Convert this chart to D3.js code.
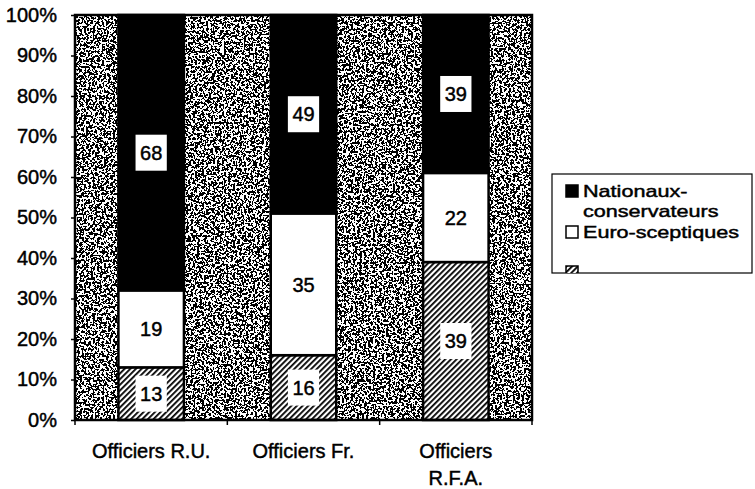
<!DOCTYPE html>
<html>
<head>
<meta charset="utf-8">
<script src="https://cdn.jsdelivr.net/npm/d3@7"></script>
<style>
  body { margin: 0; background: #fff; }
  text { font-family: "Liberation Sans", Arial, sans-serif; fill: #000; stroke: #000; stroke-width: 0.45px; }
</style>
</head>
<body>
<svg id="chart"></svg>
<script>
// data (bottom to top in each bar)
const categories = ["Officiers R.U.", "Officiers Fr.", "Officiers R.F.A."];
const categoryLines = [["Officiers R.U."], ["Officiers Fr."], ["Officiers", "R.F.A."]];
const hatchedValues = [13, 16, 39];
const euroValues = [19, 35, 22];
const nationauxValues = [68, 49, 39];
const yTicks = [0, 10, 20, 30, 40, 50, 60, 70, 80, 90, 100];
const legendNames = [["Nationaux-", "conservateurs"], ["Euro-sceptiques"], [""]];

const width = 755;
const height = 489;
const svg = d3.select("#chart").attr("width", width).attr("height", height);

const plot = { left: 75, right: 532, top: 15, bottom: 420 };

const rows = categories.map(function (c, i) {
	return { cat: c, hatched: hatchedValues[i], euro: euroValues[i], nationaux: nationauxValues[i] };
});
const keys = ["hatched", "euro", "nationaux"];
const stacked = d3.stack().keys(keys)(rows);

const x = d3.scaleBand().domain(categories).range([plot.left, plot.right])
	.paddingInner(0.57).paddingOuter(0.285);
const y = d3.scaleLinear().domain([0, 100]).range([plot.bottom, plot.top]);

const defs = svg.append("defs");

// scanned grey speckle
const noise = defs.append("filter").attr("id", "noise")
	.attr("x", 0).attr("y", 0).attr("width", "100%").attr("height", "100%");
noise.append("feTurbulence").attr("type", "fractalNoise")
	.attr("baseFrequency", 0.45).attr("numOctaves", 3).attr("seed", 7);
noise.append("feColorMatrix").attr("type", "saturate").attr("values", 0);
const ct = noise.append("feComponentTransfer");
["feFuncR", "feFuncG", "feFuncB"].forEach(function (f) {
	ct.append(f).attr("type", "discrete").attr("tableValues", "0 0 0 0 0 1 1 1 1 1");
});
ct.append("feFuncA").attr("type", "table").attr("tableValues", "1 1");

// diagonal hatch
const hatch = defs.append("pattern").attr("id", "hatch")
	.attr("patternUnits", "userSpaceOnUse").attr("width", 4).attr("height", 4)
	.attr("patternTransform", "rotate(45)");
hatch.append("rect").attr("width", 4).attr("height", 4).attr("fill", "#fff");
hatch.append("rect").attr("width", 1.8).attr("height", 4).attr("fill", "#000");

const fills = { hatched: "url(#hatch)", euro: "#fff", nationaux: "#000" };

// plot background
svg.append("rect")
	.attr("x", plot.left).attr("y", plot.top)
	.attr("width", plot.right - plot.left).attr("height", plot.bottom - plot.top)
	.attr("filter", "url(#noise)");

// bars
const layer = svg.append("g").selectAll("g")
	.data(stacked)
	.enter()
	.append("g")
	.attr("fill", function (d) { return fills[d.key]; });

layer.selectAll("rect")
	.data(function (d) { return d; })
	.enter()
	.append("rect")
	.attr("x", function (d) { return x(d.data.cat); })
	.attr("y", function (d) { return y(d[1]); })
	.attr("width", x.bandwidth())
	.attr("height", function (d) { return y(d[0]) - y(d[1]); })
	.attr("stroke", "#000")
	.attr("stroke-width", 2.5);

// value labels in white boxes
stacked.forEach(function (s) {
	s.forEach(function (d) {
		const cx = x(d.data.cat) + x.bandwidth() / 2;
		const cy = (y(d[0]) + y(d[1])) / 2;
		const g = svg.append("g");
		const box = g.append("rect").attr("fill", "#fff");
		const t = g.append("text")
			.attr("x", cx).attr("y", cy).attr("dy", "0.36em")
			.attr("text-anchor", "middle")
			.style("font-size", "20px")
			.text(d[1] - d[0]);
		const w = t.node().getComputedTextLength() + 9;
		box.attr("x", cx - w / 2).attr("y", cy - 18).attr("width", w).attr("height", 36);
	});
});

// frame
svg.append("rect")
	.attr("x", plot.left).attr("y", plot.top)
	.attr("width", plot.right - plot.left).attr("height", plot.bottom - plot.top)
	.attr("fill", "none").attr("stroke", "#000").attr("stroke-width", 2.5);

// y axis
const yAxis = svg.append("g")
	.attr("transform", "translate(" + plot.left + ",0)")
	.call(d3.axisLeft(y).tickValues(yTicks).tickSize(4).tickPadding(14)
		.tickFormat(function (d) { return d + "%"; }));
yAxis.select(".domain").remove();
yAxis.selectAll("line").attr("stroke", "#000").attr("stroke-width", 1.5);
yAxis.selectAll("text").style("font-size", "20px").style("font-family", "Liberation Sans, Arial, sans-serif");

// x axis: ticks at band boundaries, wrapped labels
const bounds = [plot.left, (x(categories[0]) + x(categories[1]) + x.bandwidth()) / 2,
	(x(categories[1]) + x(categories[2]) + x.bandwidth()) / 2, plot.right];
svg.append("g").selectAll("line")
	.data(bounds)
	.enter()
	.append("line")
	.attr("x1", function (d) { return d; }).attr("x2", function (d) { return d; })
	.attr("y1", plot.bottom).attr("y2", plot.bottom + 5)
	.attr("stroke", "#000").attr("stroke-width", 1.5);

const xl = svg.append("g").selectAll("text")
	.data(categories)
	.enter()
	.append("text")
	.attr("text-anchor", "middle")
	.style("font-size", "20px")
	.attr("x", function (d) { return x(d) + x.bandwidth() / 2; })
	.attr("y", 458);
xl.each(function (d, i) {
	const el = d3.select(this);
	categoryLines[i].forEach(function (line, j) {
		el.append("tspan")
			.attr("x", x(d) + x.bandwidth() / 2)
			.attr("dy", j === 0 ? 0 : 27)
			.text(line);
	});
});

// legend
const legend = svg.append("g");
defs.append("clipPath").attr("id", "legclip")
	.append("rect").attr("x", 552).attr("y", 174).attr("width", 200).attr("height", 99);
legend.append("rect")
	.attr("x", 552).attr("y", 174).attr("width", 200).attr("height", 99)
	.attr("fill", "#fff").attr("stroke", "#000").attr("stroke-width", 1.2);

const legendFills = ["#000", "#fff", "url(#hatch)"];
const legendY = [185, 226, 266];
const legendBase = [[197, 217], [238], [278]];
const lg = legend.append("g").attr("clip-path", "url(#legclip)");
// the scanned legend text is wider than plain Arial, so stretch it a bit
const lgText = lg.append("g").attr("transform", "translate(583,0) scale(1.27,1)");
legendNames.forEach(function (names, i) {
	lg.append("rect")
		.attr("x", 566).attr("y", legendY[i]).attr("width", 12).attr("height", 12)
		.attr("fill", legendFills[i]).attr("stroke", "#000").attr("stroke-width", 1.5);
	names.forEach(function (n, j) {
		lgText.append("text")
			.attr("x", 0).attr("y", legendBase[i][j])
			.style("font-size", "17px")
			.text(n);
	});
});
</script>
</body>
</html>
